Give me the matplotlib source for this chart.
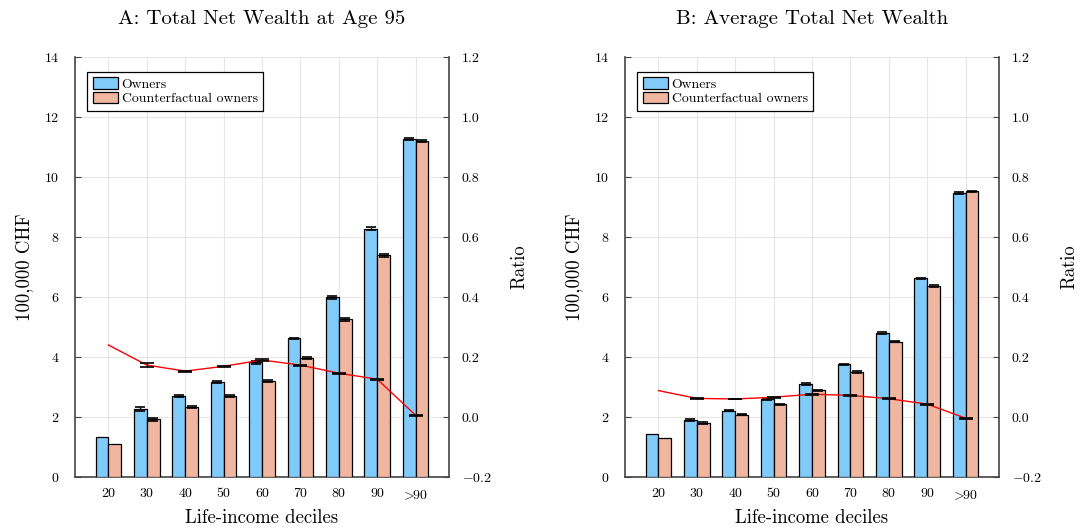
import matplotlib
matplotlib.use('Agg')
import matplotlib.pyplot as plt
import numpy as np

plt.rcParams['font.family'] = 'serif'
plt.rcParams['font.serif'] = ['cmr10']
plt.rcParams['mathtext.fontset'] = 'cm'
plt.rcParams['axes.formatter.use_mathtext'] = True

deciles = ['20', '30', '40', '50', '60', '70', '80', '90', r'$\!>\!\!$90']

# panel A: total net wealth at age 95 (100,000 CHF)
owners_a = [1.34, 2.26, 2.69, 3.16, 3.82, 4.62, 6.00, 8.28, 11.26]
owners_a_err = [0.0, 0.06, 0.03, 0.03, 0.04, 0.03, 0.05, 0.05, 0.03]
cf_a = [1.09, 1.92, 2.34, 2.70, 3.21, 3.96, 5.26, 7.40, 11.21]
cf_a_err = [0.0, 0.06, 0.03, 0.03, 0.03, 0.04, 0.05, 0.05, 0.03]
ratio_a = [0.240, 0.173, 0.153, 0.169, 0.190, 0.173, 0.146, 0.126, 0.006]
ratio_a_err = [0.0, 0.007, 0.002, 0.002, 0.002, 0.002, 0.002, 0.002, 0.002]

# panel B: average total net wealth
owners_b = [1.42, 1.90, 2.21, 2.59, 3.10, 3.76, 4.79, 6.62, 9.47]
owners_b_err = [0.0, 0.03, 0.02, 0.02, 0.02, 0.02, 0.03, 0.03, 0.03]
cf_b = [1.31, 1.79, 2.08, 2.42, 2.89, 3.50, 4.51, 6.36, 9.52]
cf_b_err = [0.0, 0.03, 0.02, 0.02, 0.02, 0.02, 0.02, 0.03, 0.03]
ratio_b = [0.088, 0.062, 0.060, 0.066, 0.076, 0.072, 0.061, 0.043, -0.004]
ratio_b_err = [0.0, 0.002, 0.001, 0.002, 0.002, 0.002, 0.002, 0.002, 0.002]

titles = ['A: Total Net Wealth at Age 95', 'B: Average Total Net Wealth']
ratio_ticks = [-0.2, 0.0, 0.2, 0.4, 0.6, 0.8, 1.0, 1.2]
ratio_labels = [r'$-$0.2', '0.0', '0.2', '0.4', '0.6', '0.8', '1.0', '1.2']

blue = '#80CBFA'
salmon = '#F0B6A0'
spine_col = '#444444'

fig = plt.figure(figsize=(10.8, 5.31), dpi=100)
lefts = [75 / 1080, 625 / 1080]
panels = [
    (owners_a, owners_a_err, cf_a, cf_a_err, ratio_a, ratio_a_err),
    (owners_b, owners_b_err, cf_b, cf_b_err, ratio_b, ratio_b_err),
]

x = np.arange(1, len(deciles) + 1)
w = 0.333

for i, (own, own_e, cf, cf_e, rat, rat_e) in enumerate(panels):
    ax = fig.add_axes([lefts[i], 54 / 531, 374 / 1080, 420 / 531])
    ax.bar(x - w / 2, own, w, color=blue, edgecolor='black', linewidth=0.9,
           label='Owners', zorder=3)
    ax.bar(x + w / 2, cf, w, color=salmon, edgecolor='black', linewidth=0.9,
           label='Counterfactual owners', zorder=3)
    # first decile has no visible error bar
    ax.errorbar(x[1:] - w / 2, own[1:], yerr=own_e[1:], fmt='none', ecolor='black',
                elinewidth=0.9, capsize=3.5, capthick=1.2, zorder=4)
    ax.errorbar(x[1:] + w / 2, cf[1:], yerr=cf_e[1:], fmt='none', ecolor='black',
                elinewidth=0.9, capsize=3.5, capthick=1.2, zorder=4)
    ax.set_xlim(0.13, 9.87)
    ax.set_ylim(0, 14)
    ax.set_yticks(np.arange(0, 15, 2))
    ax.set_xticks(x)
    ax.set_xticklabels(deciles)
    ax.grid(True, color='#e6e6e6', linewidth=0.8, zorder=0)
    ax.set_axisbelow(True)
    ax.tick_params(direction='in', length=4, labelsize=10, color=spine_col)
    ax.tick_params(axis='y', pad=11)
    ax.tick_params(axis='x', length=0, pad=8)
    for s in ['top', 'right']:
        ax.spines[s].set_visible(False)
    for s in ['left', 'bottom']:
        ax.spines[s].set_color(spine_col)
        ax.spines[s].set_linewidth(1.2)
    ax.set_xlabel('Life-income deciles', fontsize=13.5, labelpad=5)
    ax.set_ylabel('100,000 CHF', fontsize=13.5, labelpad=8)
    ax.set_title(titles[i], fontsize=15, pad=24)
    leg = ax.legend(loc='upper left', bbox_to_anchor=(0.033, 0.965), fontsize=9.9,
                    fancybox=False, framealpha=1, edgecolor='black',
                    handlelength=1.8, handleheight=0.9, handletextpad=0.3,
                    borderpad=0.4, labelspacing=0.1, borderaxespad=0)
    leg.get_frame().set_linewidth(0.9)

    ax2 = ax.twinx()
    ax2.plot(x, rat, color='red', linewidth=1.0, zorder=5)
    ax2.errorbar(x[1:], rat[1:], yerr=rat_e[1:], fmt='none', ecolor='black',
                 elinewidth=0.9, capsize=5, capthick=1.2, zorder=6)
    ax2.set_ylim(-0.2, 1.2)
    ax2.set_yticks(ratio_ticks)
    ax2.set_yticklabels(ratio_labels)
    ax2.tick_params(direction='in', length=4, labelsize=10, color=spine_col, pad=9)
    for s in ['top', 'left', 'bottom']:
        ax2.spines[s].set_visible(False)
    ax2.spines['right'].set_color(spine_col)
    ax2.spines['right'].set_linewidth(1.2)
    ax2.set_ylabel('Ratio', fontsize=13.5, labelpad=14)

fig.savefig('out.png', dpi=100)
